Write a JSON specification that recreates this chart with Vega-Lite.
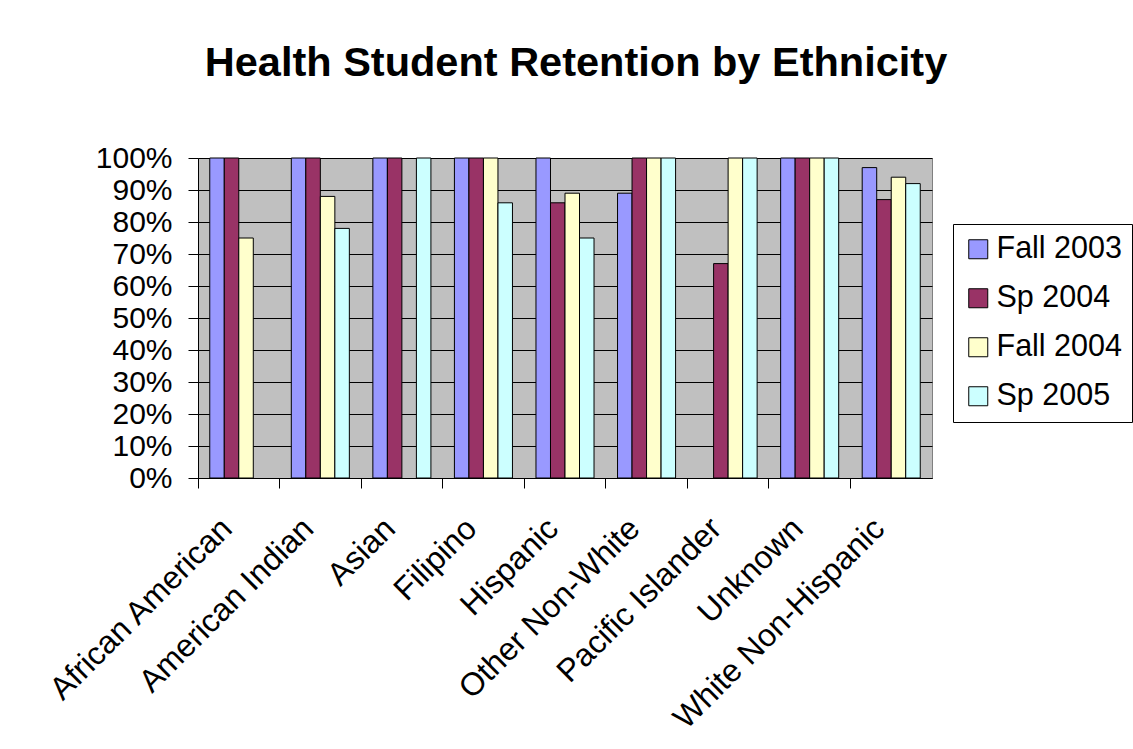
{
  "$schema": "https://vega.github.io/schema/vega-lite/v6.json",
  "autosize": {"type": "none"},
  "width": 734,
  "height": 320,
  "padding": {"left": 198, "top": 158, "right": 201, "bottom": 271},
  "background": "white",
  "title": {
    "text": "Health Student Retention by Ethnicity",
    "font": "Liberation Sans",
    "fontSize": 41.5,
    "fontWeight": "bold",
    "color": "black",
    "anchor": "middle",
    "baseline": "alphabetic",
    "dx": 11,
    "offset": 26
  },
  "data": {
    "values": [
      {"ethnicity": "African American", "term": "Fall 2003", "retention": 1.0},
      {"ethnicity": "African American", "term": "Sp 2004", "retention": 1.0},
      {"ethnicity": "African American", "term": "Fall 2004", "retention": 0.75},
      {"ethnicity": "American Indian", "term": "Fall 2003", "retention": 1.0},
      {"ethnicity": "American Indian", "term": "Sp 2004", "retention": 1.0},
      {"ethnicity": "American Indian", "term": "Fall 2004", "retention": 0.88},
      {"ethnicity": "American Indian", "term": "Sp 2005", "retention": 0.78},
      {"ethnicity": "Asian", "term": "Fall 2003", "retention": 1.0},
      {"ethnicity": "Asian", "term": "Sp 2004", "retention": 1.0},
      {"ethnicity": "Asian", "term": "Sp 2005", "retention": 1.0},
      {"ethnicity": "Filipino", "term": "Fall 2003", "retention": 1.0},
      {"ethnicity": "Filipino", "term": "Sp 2004", "retention": 1.0},
      {"ethnicity": "Filipino", "term": "Fall 2004", "retention": 1.0},
      {"ethnicity": "Filipino", "term": "Sp 2005", "retention": 0.86},
      {"ethnicity": "Hispanic", "term": "Fall 2003", "retention": 1.0},
      {"ethnicity": "Hispanic", "term": "Sp 2004", "retention": 0.86},
      {"ethnicity": "Hispanic", "term": "Fall 2004", "retention": 0.89},
      {"ethnicity": "Hispanic", "term": "Sp 2005", "retention": 0.75},
      {"ethnicity": "Other Non-White", "term": "Fall 2003", "retention": 0.89},
      {"ethnicity": "Other Non-White", "term": "Sp 2004", "retention": 1.0},
      {"ethnicity": "Other Non-White", "term": "Fall 2004", "retention": 1.0},
      {"ethnicity": "Other Non-White", "term": "Sp 2005", "retention": 1.0},
      {"ethnicity": "Pacific Islander", "term": "Sp 2004", "retention": 0.67},
      {"ethnicity": "Pacific Islander", "term": "Fall 2004", "retention": 1.0},
      {"ethnicity": "Pacific Islander", "term": "Sp 2005", "retention": 1.0},
      {"ethnicity": "Unknown", "term": "Fall 2003", "retention": 1.0},
      {"ethnicity": "Unknown", "term": "Sp 2004", "retention": 1.0},
      {"ethnicity": "Unknown", "term": "Fall 2004", "retention": 1.0},
      {"ethnicity": "Unknown", "term": "Sp 2005", "retention": 1.0},
      {"ethnicity": "White Non-Hispanic", "term": "Fall 2003", "retention": 0.97},
      {"ethnicity": "White Non-Hispanic", "term": "Sp 2004", "retention": 0.87},
      {"ethnicity": "White Non-Hispanic", "term": "Fall 2004", "retention": 0.94},
      {"ethnicity": "White Non-Hispanic", "term": "Sp 2005", "retention": 0.92}
    ]
  },
  "mark": {"type": "bar", "stroke": "black", "strokeWidth": 1},
  "encoding": {
    "x": {
      "field": "ethnicity",
      "type": "nominal",
      "scale": {
        "domain": ["African American", "American Indian", "Asian", "Filipino", "Hispanic", "Other Non-White", "Pacific Islander", "Unknown", "White Non-Hispanic"],
        "paddingInner": 0,
        "paddingOuter": 0
      },
      "axis": {
        "title": null,
        "grid": false,
        "bandPosition": 0,
        "domainColor": "black",
        "tickColor": "black",
        "tickSize": 10,
        "labelAngle": -45,
        "labelAlign": "right",
        "labelBaseline": "middle",
        "labelFont": "Liberation Sans",
        "labelFontSize": 32,
        "labelColor": "black",
        "labelPadding": 35,
        "labelOffset": -12,
        "labelOverlap": false,
        "labelLimit": 500
      }
    },
    "xOffset": {
      "field": "term",
      "type": "nominal",
      "scale": {
        "domain": ["Fall 2003", "Sp 2004", "Fall 2004", "Sp 2005"],
        "paddingInner": 0,
        "paddingOuter": 0.81
      }
    },
    "y": {
      "field": "retention",
      "type": "quantitative",
      "scale": {"domain": [0, 1]},
      "axis": {
        "title": null,
        "values": [0, 0.1, 0.2, 0.3, 0.4, 0.5, 0.6, 0.7, 0.8, 0.9, 1.0],
        "format": ".0%",
        "grid": true,
        "gridColor": "black",
        "gridOpacity": 1,
        "gridWidth": 1,
        "domainColor": "black",
        "tickColor": "black",
        "tickSize": 10,
        "labelFont": "Liberation Sans",
        "labelFontSize": 30,
        "labelColor": "black",
        "labelPadding": 16,
        "labelOverlap": false,
        "labelBound": false
      }
    },
    "color": {
      "field": "term",
      "type": "nominal",
      "scale": {
        "domain": ["Fall 2003", "Sp 2004", "Fall 2004", "Sp 2005"],
        "range": ["#9999FF", "#993366", "#FFFFCC", "#CCFFFF"]
      },
      "legend": {
        "title": null,
        "orient": "none",
        "legendX": 755,
        "legendY": 66,
        "fillColor": "white",
        "strokeColor": "black",
        "padding": 10,
        "symbolType": "square",
        "symbolSize": 361,
        "symbolStrokeColor": "black",
        "symbolStrokeWidth": 1,
        "symbolOpacity": 1,
        "labelFont": "Liberation Sans",
        "labelFontSize": 30.5,
        "labelColor": "black",
        "labelOffset": 3,
        "rowPadding": 18,
        "labelLimit": 300
      }
    }
  },
  "config": {
    "view": {"fill": "#C0C0C0", "stroke": "#808080", "strokeWidth": 1},
    "font": "Liberation Sans"
  }
}
